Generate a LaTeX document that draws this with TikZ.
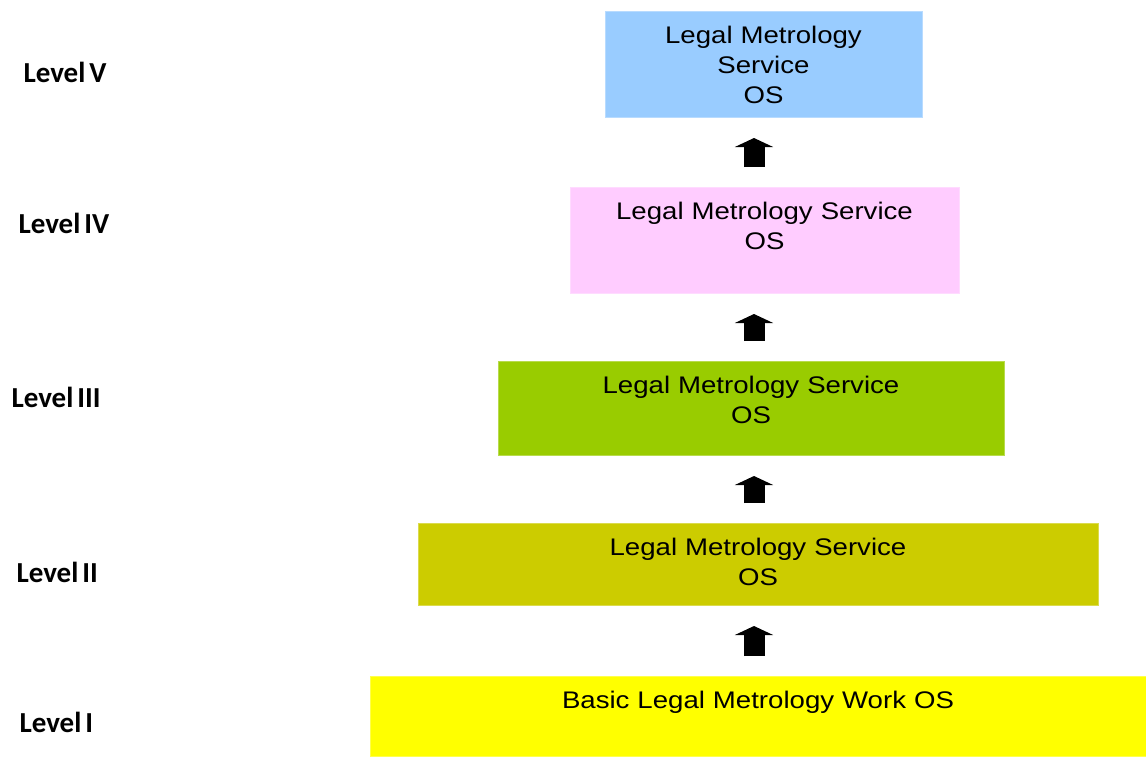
\documentclass[tikz,border=0pt]{standalone}
\usepackage{fontspec}
\setmainfont{Liberation Sans}[FakeStretch=1.15, WordSpace=0.5]
\newfontfamily\levelfont{Carlito}[WordSpace=0.6]
\usepackage{tikz}
\usetikzlibrary{arrows.meta, positioning}

\definecolor{TierV}{HTML}{99CCFF}
\definecolor{TierIV}{HTML}{FFCCFF}
\definecolor{TierIII}{HTML}{99CC00}
\definecolor{TierII}{HTML}{CCCC00}
\definecolor{TierI}{HTML}{FFFF00}

\begin{document}
\begin{tikzpicture}[x=1pt, y=-1pt,
  tier/.style={rectangle, anchor=north, fill=#1, draw=#1!70!white,
    line width=1pt, inner xsep=0pt, inner ysep=14pt, text width=316pt,
    align=center, text height=18pt, font=\fontsize{24}{30}\selectfont},
  %
  level/.style={anchor=base west,
    font=\levelfont\bfseries\fontsize{29}{32}\selectfont},
  %
  upstep/.style={line width=21pt, -{Triangle[width=38pt, length=9pt]},
    shorten <=20pt, shorten >=20pt}
  ]

  \useasboundingbox (0,0) rectangle (1146,756);

  % the five tiers, top to bottom
  \node [tier=TierV, minimum width=317pt, text depth=60pt] (l5)
  at (763.5,11) {Legal Metrology\\Service\\OS};
  \node [tier=TierIV, minimum width=389pt, text depth=60pt] (l4)
  at (764.5,187) {Legal Metrology Service\\OS};
  \node [tier=TierIII, minimum width=506pt, text depth=48pt] (l3)
  at (751,361) {Legal Metrology Service\\OS};
  \node [tier=TierII, minimum width=680pt, text depth=36pt] (l2)
  at (758,523) {Legal Metrology Service\\OS};
  \node [tier=TierI, minimum width=776pt, text width=760pt, text depth=34pt] (l1)
  at (758,676) {Basic Legal Metrology Work OS};

  % level names on the left
  \node [level] (n5) at (20,82) {Level V};
  \node [level] (n4) at (15,233) {Level IV};
  \node [level] (n3) at (8,407) {Level III};
  \node [level] (n2) at (13,582) {Level II};
  \node [level] (n1) at (16,732) {Level I};

  % block arrows between the tiers
  \coordinate (axis) at (754,0);
  \draw [upstep] (l1.north -| axis) -- (l2.south -| axis);
  \draw [upstep] (l2.north -| axis) -- (l3.south -| axis);
  \draw [upstep] (l3.north -| axis) -- (l4.south -| axis);
  \draw [upstep] (l4.north -| axis) -- (l5.south -| axis);

\end{tikzpicture}
\end{document}
